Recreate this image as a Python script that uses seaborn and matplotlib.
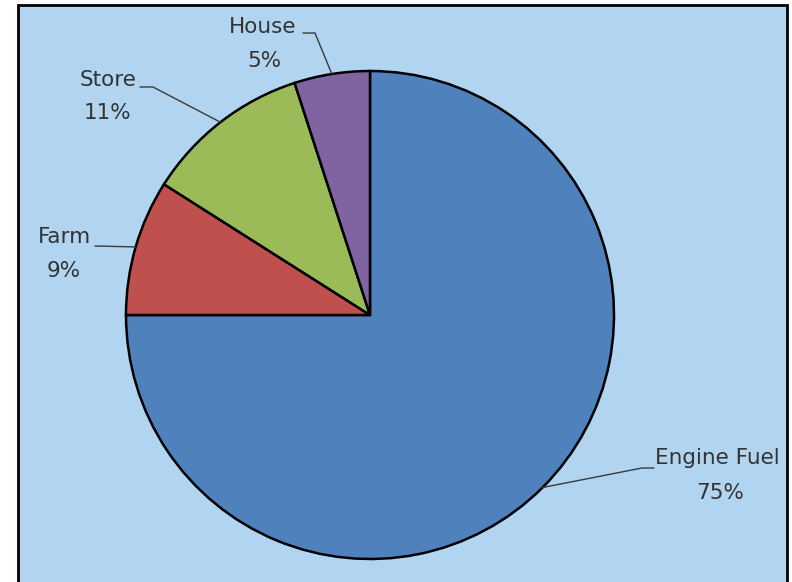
"""
Energy use pie chart - Engine Fuel / Farm / Store / House
"""

import numpy as np
import matplotlib
matplotlib.use("Agg")
import matplotlib.pyplot as plt
import seaborn as sns
from matplotlib.patches import Rectangle

sns.set_style("white")
plt.rcParams['font.family'] = ['DejaVu Sans']

# Data
labels = ['Engine Fuel', 'Farm', 'Store', 'House']
shares = [75, 9, 11, 5]
colors = ['#4F81BD', '#C0504D', '#9BBB59', '#8064A2']

# Label layout (image pixels, y measured from top)
name_xy = [(717, 458), (64, 237), (108, 80), (263, 27)]
pct_xy = [(720, 493), (64, 271), (108, 113), (264, 61)]
line_start = [(654, 468), (95, 246), (140, 87), (303, 33)]
line_knee = [(642, 468), (95, 246), (153, 87), (315, 33)]

W, H = 792, 582
bg = '#B1D5F0'
text_color = '#333333'


def py(y):
    """image y (top-down) -> data y (bottom-up)"""
    return H - y


fig = plt.figure(figsize=(W / 100, H / 100), dpi=100, facecolor='white')
ax = fig.add_axes([0, 0, 1, 1])

# chart area with black frame
ax.add_patch(Rectangle((18, -20), 769, py(5) + 20, facecolor=bg,
                       edgecolor='black', linewidth=2.0, zorder=0))

center = (370, py(315))
radius = 244
wedges, _ = ax.pie(shares, colors=colors, startangle=90, counterclock=False,
                   center=center, radius=radius, frame=True,
                   wedgeprops={'edgecolor': 'black', 'linewidth': 1.8})
ax.set_xlim(0, W)
ax.set_ylim(0, H)
ax.set_aspect('equal')
ax.axis('off')

total = sum(shares)
for i, w in enumerate(wedges):
    mid = np.deg2rad((w.theta1 + w.theta2) / 2)
    ex = center[0] + radius * np.cos(mid)
    ey = center[1] + radius * np.sin(mid)
    xs = [line_start[i][0], line_knee[i][0], ex]
    ys = [py(line_start[i][1]), py(line_knee[i][1]), ey]
    ax.plot(xs, ys, color='#3A3A3A', linewidth=1.0, zorder=3)
    ax.text(name_xy[i][0], py(name_xy[i][1]), labels[i], ha='center', va='center',
            fontsize=15.5, color=text_color)
    ax.text(pct_xy[i][0], py(pct_xy[i][1]), f"{shares[i] / total * 100:.0f}%",
            ha='center', va='center', fontsize=15.5, color=text_color)

fig.savefig('out.png', dpi=100, facecolor='white')
